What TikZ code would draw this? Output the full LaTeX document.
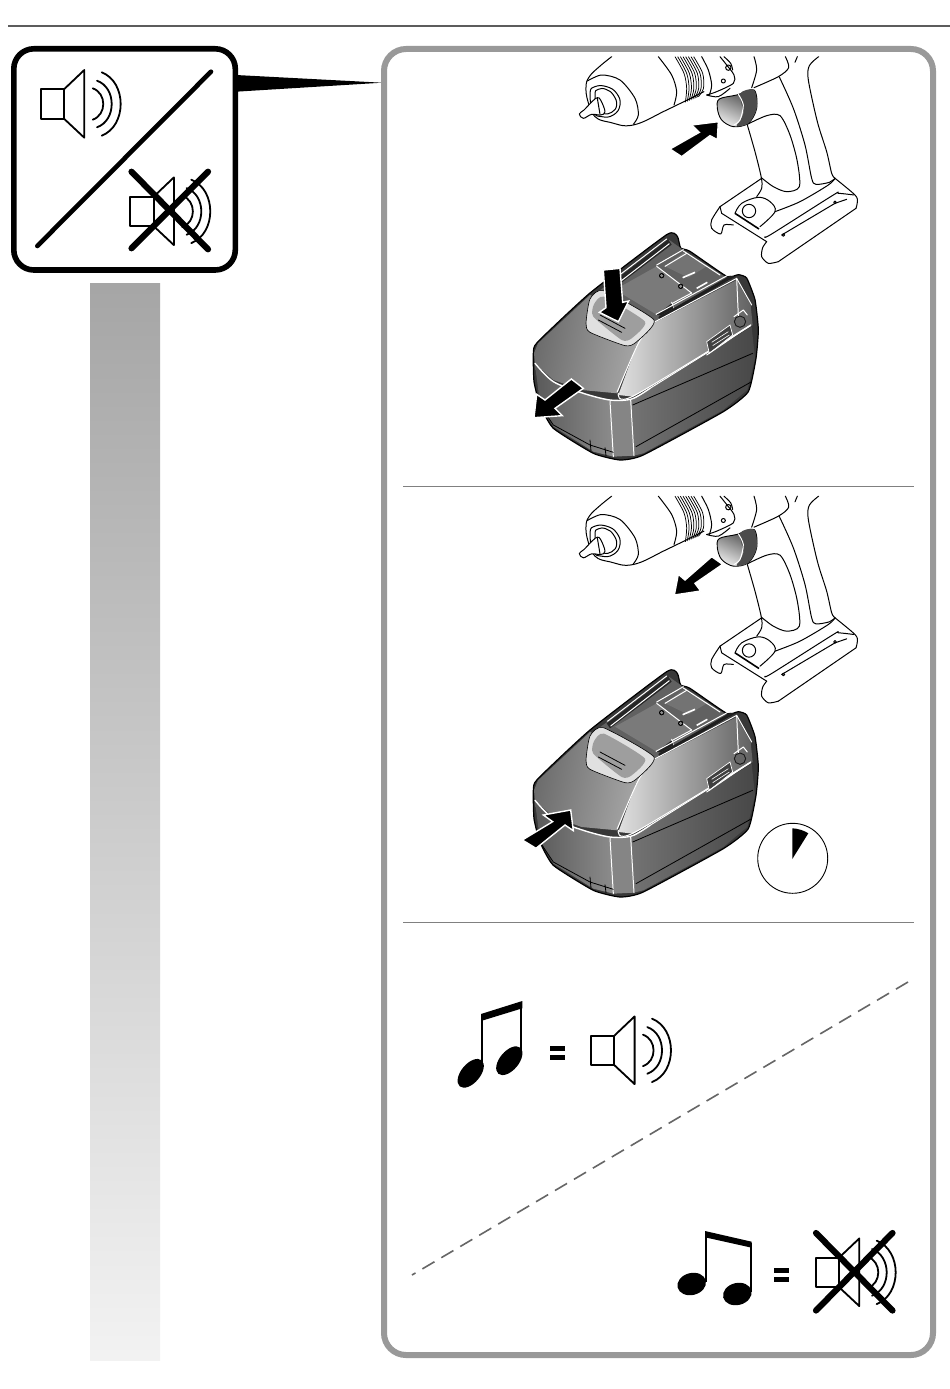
\documentclass[tikz,border=0pt]{standalone}
\usetikzlibrary{calc}
\definecolor{panelgray}{gray}{0.6}
\definecolor{rulegray}{gray}{0.36}
\tikzset{
  sym/.style={line width=1.8pt,black,line join=round},
  stroke/.style={line width=6.2pt,black,line cap=round},
  dl/.style={line width=1pt,black,line cap=round,line join=round},
  hl/.style={line width=1pt,white,line cap=round,line join=round},
  bl/.style={line width=0.8pt,black,line cap=round,line join=round},
  arrowshape/.style={fill=black,draw=white,line width=1.4pt,line join=miter},
  zoomed/.style={x=0.33333pt,y=-0.33333pt},
}
\newcommand{\speakericon}[2]{%
  \begin{scope}[shift={(#1,#2)}]
    \draw[sym] (0,0) rectangle (23.3,29.4);
    \draw[sym] (23.3,0) -- (43.6,-19.3) -- (43.6,48.4) -- (23.3,29.4);
    \draw[sym,line cap=round] (61,-17) .. controls (86.3,-7) and (86.3,36.4) .. (61,46.4);
    \draw[sym,line cap=round] (56.3,-8.6) .. controls (75.9,-1.6) and (75.9,31) .. (56.3,38);
    \draw[sym,line cap=round] (52,-1) .. controls (66.1,4) and (66.1,25.4) .. (52,30.4);
  \end{scope}}
\newcommand{\drilldraw}[2]{%
  \begin{scope}[shift={(#1,#2)},zoomed]
    % chuck
    \draw[dl] plot[smooth,tension=.7] coordinates {(155,35) (118,65) (88,95) (78,125) (84,170) (105,215) (150,232) (220,240) (320,195) (432,140)};
    \draw[dl] plot[smooth] coordinates {(82,108) (125,90) (180,105) (225,160) (235,210) (220,238)};
    \draw[dl] plot[smooth cycle,tension=.8] coordinates {(90,145) (105,125) (140,125) (170,145) (180,180) (160,210) (125,215) (100,200)};
    \draw[dl] plot[smooth cycle,tension=.8] coordinates {(105,148) (115,133) (138,133) (160,150) (170,180) (155,202) (130,206) (112,195)};
    \draw[dl,fill=white] plot[smooth cycle,tension=.6] coordinates {(58,207) (72,195) (98,168) (112,158) (122,165) (135,200) (122,210) (95,208) (70,220)};
    \draw[dl] (112,160) -- (120,208);
    % ribs
    \foreach \d in {0,8,16,24,32,40,48,56} {\draw[black,line width=.75pt] plot[smooth] coordinates {({345+\d},35) ({372+\d},85) ({380+\d*.9},130) ({376+\d*.7},{172-\d*.3})};}
    \draw[dl] plot[smooth] coordinates {(295,35) (335,90) (350,140) (342,180)};
    \draw[dl] plot[smooth] coordinates {(425,35) (445,75) (455,120) (448,150)};
    \draw[dl] plot[smooth] coordinates {(480,35) (500,60) (522,90) (520,115) (470,140) (440,150)};
    \draw[dl] plot[smooth] coordinates {(492,35) (512,55) (518,75)};
    \draw[dl] (505,68) circle (8);
    \draw[dl] (490,108) circle (6);
    % housing
    \draw[dl] plot[smooth] coordinates {(582,35) (590,75) (575,128)};
    \draw[dl] plot[smooth] coordinates {(676,35) (686,68) (655,95) (582,128)};
    \draw[dl] (712,35) -- (705,52);
    \draw[dl] plot[smooth] coordinates {(776,35) (748,62) (745,105) (772,230) (800,320) (815,385) (825,400)};
    \draw[dl] plot[smooth] coordinates {(658,96) (700,190) (735,300) (755,400) (768,418) (808,412) (825,400)};
    \draw[dl] plot[smooth] coordinates {(440,150) (475,155) (510,130)};
    % grip front
    \draw[dl] plot[smooth] coordinates {(562,240) (585,320) (604,398) (605,430) (590,455)};
    \draw[dl] plot[smooth] coordinates {(562,238) (620,212) (660,212) (690,270) (712,350) (718,425) (680,440) (640,425) (604,398)};
    % foot
    \draw[dl] (605,400) -- (480,485);
    \draw[dl] plot[smooth,tension=.5] coordinates {(480,485) (455,525) (455,550) (482,567) (492,540) (520,540)};
    \draw[dl] (480,485) -- (485,505) -- (620,590);
    \draw[dl] plot[smooth,tension=.45] coordinates {(620,590) (608,608) (605,635) (625,655) (655,650)};
    \draw[dl] (655,650) -- (888,490);
    \draw[dl] plot[smooth,tension=.5] coordinates {(888,490) (892,470) (885,450) (825,400)};
    \draw[dl] plot[smooth,tension=.5] coordinates {(615,575) (635,567) (820,450) (835,445) (882,450)};
    \draw[dl] (665,570) -- (825,475) -- (860,463);
    \draw[dl] plot[smooth] coordinates {(645,500) (720,470) (805,420) (825,400)};
    \draw[dl] plot[smooth,tension=.6] coordinates {(525,505) (545,475) (595,457) (630,470) (645,500) (600,545)};
    \draw[black,line width=1.6pt] (525,505) -- (597,552);
    \draw[dl] (567,498) circle (20);
    \draw[dl] (670,570) circle (4);
    \draw[dl] (825,472) circle (4);
    % selector knob
    \shade[top color=black!75,bottom color=black!8,shading angle=-25,draw=black,line width=.9pt,line join=round]
      plot[smooth cycle,tension=.55] coordinates {(478,162) (530,150) (582,135) (590,190) (565,235) (520,245) (485,225) (472,190)};
    \fill[black!70,line join=round] plot[smooth cycle,tension=.5] coordinates {(540,146) (582,135) (590,190) (565,235) (530,243) (550,205)};
    \draw[hl] plot[smooth] coordinates {(535,148) (550,180) (540,225) (522,240)};
  \end{scope}}
\newcommand{\batterydraw}[2]{%
  \begin{scope}[shift={(#1,#2)},zoomed]
    % silhouette
    \fill[black!78,draw=black,line width=1.2pt,line join=round]
      plot[smooth cycle,tension=.3] coordinates {(70,385) (82,352) (240,204) (470,29) (502,34) (512,69) (540,79) (650,154) (685,149) (710,159) (735,224) (745,314) (738,400) (715,500) (640,560) (400,690) (330,705) (250,685) (130,610) (90,540) (72,470)};
    % deck
    \fill[black!62] (250,210) -- (478,45) -- (520,75) -- (660,165) -- (440,290) -- cycle;
    % long rail
    \fill[black!85] (290,184) -- (475,44) -- (485,59) -- (300,199) -- cycle;
    \draw[hl] (292,178) -- (470,42);
    \draw[hl] (302,192) -- (478,56);
    % rear plate
    \fill[black!55] (465,124) -- (520,84) -- (590,124) -- (535,158) -- cycle;
    \draw[hl] (440,120) -- (520,74);
    \draw[hl] (520,78) -- (630,150);
    \draw[hl] (465,124) -- (530,85);
    % central plate
    \fill[black!52,line join=round] (315,194) -- (440,124) -- (545,204) -- (485,234) -- (440,269) -- cycle;
    \draw[hl] (440,124) -- (545,204) -- (485,236);
    \draw[hl] (485,232) -- (490,250);
    \fill[black!88] (440,269) -- (485,236) -- (490,250) -- (452,272) -- cycle;
    % slots
    \draw[white,line width=1.6pt] (518,158) -- (555,142);
    \draw[white,line width=1.6pt] (560,190) -- (592,172);
    % screws
    \fill[black] (455,152) circle (8); \fill[black!45] (455,152) circle (5);
    \fill[black] (512,184) circle (8); \fill[black!45] (512,184) circle (5);
    % side rail
    \draw[hl] (438,268) -- (655,150);
    \fill[black!88] (445,276) -- (660,152) -- (675,155) -- (450,285) -- cycle;
    % side upper face
    \shade[left color=black!12,right color=black!62,draw=none]
      (430,295) -- (680,165) -- (722,240) -- (728,300) -- (370,515) -- (325,510) -- (380,360) -- cycle;
    % top face
    \shade[left color=black!58,right color=black!32,shading angle=80]
      (72,385) -- (84,355) -- (240,210) -- (430,292) -- (380,360) -- (322,505) -- (215,495) -- (130,465) -- (75,415) -- cycle;
    % front lower
    \shade[left color=black!65,right color=black!45] (75,420) -- (130,470) -- (220,505) -- (300,525) -- (310,695) -- (250,680) -- (130,605) -- (90,535) -- cycle;
    \shade[left color=black!55,right color=black!72] (365,525) -- (725,305) -- (735,400) -- (712,495) -- (640,555) -- (400,685) -- (372,692) -- cycle;
    \fill[black!48] (300,525) -- (365,525) -- (372,692) -- (310,695) -- cycle;
    % white edges
    \draw[hl,line width=1.4pt] plot[smooth,tension=.5] coordinates {(75,415) (130,470) (220,505) (300,525) (365,522) (420,490)};
    \draw[hl] (420,490) -- (722,302);
    \draw[hl] (300,528) -- (310,695);
    \draw[hl] (362,525) -- (372,692);
    \draw[hl] plot[smooth] coordinates {(430,295) (385,355) (322,500)};
    \draw[hl] plot[smooth] coordinates {(325,505) (372,512) (722,300)};
    \draw[hl] (430,293) -- (680,160) -- (725,240);
    \draw[hl] (680,160) -- (686,295);
    % black seams
    \draw[bl] (378,665) -- (725,470);
    \draw[bl] (368,540) -- (728,385);
    \draw[bl] (90,540) -- (130,600) -- (240,660) -- (310,682);
    \draw[bl] (240,645) -- (243,678);
    \draw[bl] (285,668) -- (288,692);
    % label plate and knob
    \fill[black!75,draw=white,line width=.7pt] (590,350) -- (660,300) -- (668,330) -- (598,385) -- cycle;
    \draw[white,line width=.6pt] (605,352) -- (655,320);
    \draw[white,line width=.6pt] (608,362) -- (658,330);
    \draw[hl] (590,390) -- (722,300);
    \fill[black!60,draw=black!90,line width=.9pt] (690,290) circle (17);
    \draw[hl] (672,275) -- (700,255) -- (712,270);
    % button
    \fill[black!12,draw=black,line width=.6pt,line join=round]
      plot[smooth cycle,tension=.35] coordinates {(228,295) (240,222) (280,197) (432,285) (378,352) (345,362) (240,322)};
    \fill[black!38,line join=round]
      plot[smooth cycle,tension=.35] coordinates {(250,275) (252,238) (282,215) (405,290) (365,340) (335,345)};
    \draw[bl] (270,270) -- (345,310);
    \draw[bl] (265,285) -- (335,322);
  \end{scope}}
\begin{document}
\begin{tikzpicture}[x=1pt,y=-1pt]
  \useasboundingbox (0,0) rectangle (950,1389);
  \fill[white] (0,0) rectangle (950,1389);
  % header rule
  \coordinate (ruleL) at (8,25.7); \coordinate (ruleR) at (950,25.7);
  \draw[rulegray,line width=1.8pt] (ruleL) -- (ruleR);
  % gradient strip
  \shade[top color=black!35,bottom color=black!5] (90,283) rectangle (160,1360);
  % callout wedge
  \fill[black] (236,75) -- (382,82.7) -- (236,91.7) -- cycle;
  % icon box
  \draw[black,line width=5.6pt,rounded corners=20pt] (13.8,48.8) rectangle (235.3,270);
  \draw[black,line width=4.6pt,line cap=round] (211,71.7) -- (37.3,246);
  \speakericon{40.7}{89.3}
  \speakericon{130.3}{196.7}
  \draw[stroke] (131.5,171.7) -- (208,249.3);
  \draw[stroke] (208,171.7) -- (131.5,248.3);
  % main panel
  \draw[panelgray,line width=6pt,rounded corners=22pt] (384,49) rectangle (933,1355);
  \draw[black!50,line width=1pt] (403,486) -- (914,486);
  \draw[black!50,line width=1pt] (403,922) -- (914,922);
  % step 1
  \drilldraw{560}{45}
  \batterydraw{510}{225}
  \begin{scope}[shift={(560,45)},zoomed]
    \filldraw[arrowshape] (330,312) -- (418,262) -- (395,240) -- (475,230) -- (472,284) -- (450,272) -- (365,335) -- cycle;
  \end{scope}
  \begin{scope}[shift={(510,225)},zoomed]
    \filldraw[arrowshape] (280,135) -- (330,130) -- (338,232) -- (356,228) -- (325,290) -- (268,262) -- (288,248) -- cycle;
    \filldraw[arrowshape] (184,462) -- (220,490) -- (135,550) -- (157,572) -- (72,578) -- (80,508) -- (105,525) -- cycle;
  \end{scope}
  % step 2
  \drilldraw{560}{484.5}
  \batterydraw{510}{662}
  \begin{scope}[shift={(560,485)},zoomed]
    \filldraw[arrowshape] (455,215) -- (488,238) -- (405,295) -- (422,318) -- (343,330) -- (355,268) -- (375,285) -- cycle;
  \end{scope}
  \begin{scope}[shift={(510,665)},zoomed]
    \filldraw[arrowshape] (37,525) -- (128,470) -- (100,450) -- (182,435) -- (190,497) -- (165,480) -- (78,550) -- cycle;
  \end{scope}
  % clock
  \draw[black,line width=.9pt] (792.7,858.3) circle (35);
  \fill[black] (792.3,859) -- (792.3,828.3) .. controls (798,828.5) and (804,830.5) .. (808.3,833.3) -- cycle;
  % step 3
  \draw[black!60,line width=1.6pt,dash pattern=on 14pt off 8pt] (908,982) -- (412,1275);
  % note 1
  \fill[black,shift={(470.7,1073.3)},rotate=50] (0,0) ellipse (17 and 9.5);
  \fill[black,shift={(509.3,1060.7)},rotate=50] (0,0) ellipse (17 and 9.5);
  \fill[black] (481,1014) -- (522.3,1001) -- (522.3,1008.3) -- (481,1021) -- cycle;
  \draw[black,line width=2.2pt] (482,1015) -- (482,1068);
  \draw[black,line width=2.2pt] (521.2,1002) -- (521.2,1052);
  \fill[black] (550,1046) rectangle (565,1051);
  \fill[black] (550,1055) rectangle (565,1060);
  \speakericon{591}{1035.7}
  % note 2
  \fill[black,shift={(691.7,1284)},rotate=14] (0,0) ellipse (14.5 and 11);
  \fill[black,shift={(737.3,1294)},rotate=14] (0,0) ellipse (14.5 and 11);
  \fill[black] (705,1231) -- (751.7,1241.7) -- (751.7,1247.7) -- (705,1237.3) -- cycle;
  \draw[black,line width=2.2pt] (706,1232) -- (706,1282);
  \draw[black,line width=2.2pt] (750.6,1243) -- (750.6,1292);
  \fill[black] (774,1267.7) rectangle (789.3,1272.7);
  \fill[black] (774,1277.3) rectangle (789.3,1282.3);
  \speakericon{815.7}{1257.7}
  \draw[stroke] (816,1233) -- (892.5,1310.5);
  \draw[stroke] (892.5,1233) -- (816,1310.5);
\end{tikzpicture}
\end{document}
